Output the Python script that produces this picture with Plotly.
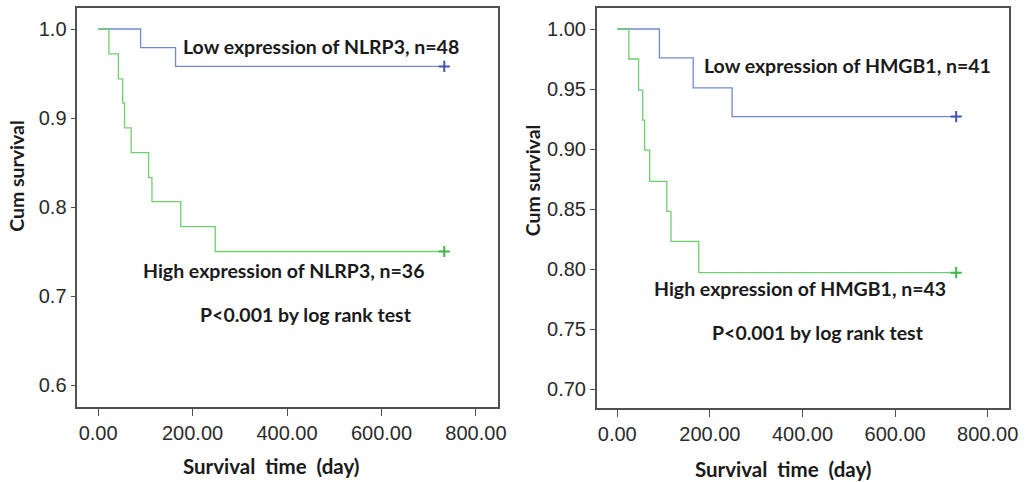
import plotly.graph_objects as go

# ---- data ----
nlrp3_low_days = [0, 90, 164, 733]
nlrp3_low_surv = [1.0, 0.979, 0.958, 0.958]
nlrp3_high_days = [0, 23, 43, 52, 56, 70, 107, 114, 175, 248, 733]
nlrp3_high_surv = [1.0, 0.972, 0.944, 0.917, 0.889, 0.861, 0.833, 0.806, 0.778, 0.750, 0.750]

hmgb1_low_days = [0, 91, 164, 248, 732]
hmgb1_low_surv = [1.0, 0.976, 0.951, 0.927, 0.927]
hmgb1_high_days = [0, 25, 46, 55, 59, 70, 107, 116, 176, 732]
hmgb1_high_surv = [1.0, 0.975, 0.949, 0.924, 0.899, 0.873, 0.848, 0.823, 0.797, 0.797]

x_ticks = [0, 200, 400, 600, 800]
x_tick_labels = ["0.00", "200.00", "400.00", "600.00", "800.00"]
y_ticks_left = [0.6, 0.7, 0.8, 0.9, 1.0]
y_tick_labels_left = ["0.6", "0.7", "0.8", "0.9", "1.0"]
y_ticks_right = [0.70, 0.75, 0.80, 0.85, 0.90, 0.95, 1.00]
y_tick_labels_right = ["0.70", "0.75", "0.80", "0.85", "0.90", "0.95", "1.00"]

BLUE_LINE = "#7388d2"
BLUE_MARK = "#3f56b0"
GREEN_LINE = "#6fcf6f"
GREEN_MARK = "#3fb54a"
AX = "#505050"
TXT = "#1a1a1a"
LBL_FONT = "Lato"

W, H = 1036, 482

def PX(px):
    return px / W

def PY(py):
    return 1 - py / H

fig = go.Figure()

def add_curve(days, surv, line_col, mark_col, xa, ya):
    fig.add_trace(go.Scatter(x=days, y=surv, mode="lines", line=dict(color=line_col, width=1.3, shape="hv"),
                             xaxis=xa, yaxis=ya, showlegend=False, hoverinfo="skip"))
    fig.add_trace(go.Scatter(x=[days[-1]], y=[surv[-1]], mode="markers",
                             marker=dict(symbol="cross-thin", size=8, line=dict(color=mark_col, width=2)),
                             xaxis=xa, yaxis=ya, showlegend=False, hoverinfo="skip"))

add_curve(nlrp3_low_days, nlrp3_low_surv, BLUE_LINE, BLUE_MARK, "x", "y")
add_curve(nlrp3_high_days, nlrp3_high_surv, GREEN_LINE, GREEN_MARK, "x", "y")
add_curve(hmgb1_low_days, hmgb1_low_surv, BLUE_LINE, BLUE_MARK, "x2", "y2")
add_curve(hmgb1_high_days, hmgb1_high_surv, GREEN_LINE, GREEN_MARK, "x2", "y2")

tickfont = dict(family="Liberation Sans, Arial", size=20, color="#2a2a2a")
common_ax = dict(showline=True, linecolor=AX, linewidth=1.6, mirror=True, showgrid=False, zeroline=False,
                 ticks="outside", tickcolor=AX, tickwidth=1.4, tickfont=tickfont, fixedrange=True)

fig.update_layout(
    width=W, height=H, margin=dict(l=0, r=0, t=0, b=0),
    paper_bgcolor="white", plot_bgcolor="white",
    xaxis=dict(domain=[PX(78), PX(502)], range=[-44, 846], tickvals=x_ticks, ticktext=x_tick_labels,
               ticklen=7, anchor="y", **common_ax),
    yaxis=dict(domain=[PY(407), PY(8)], range=[0.5753, 1.0236], tickvals=y_ticks_left,
               ticktext=y_tick_labels_left, ticklen=5, anchor="x", **common_ax),
    xaxis2=dict(domain=[PX(602), PX(1018)], range=[-44.3, 846.4], tickvals=x_ticks, ticktext=x_tick_labels,
                ticklen=7, anchor="y2", **common_ax),
    yaxis2=dict(domain=[PY(408), PY(8)], range=[0.6842, 1.0175], tickvals=y_ticks_right,
                ticktext=y_tick_labels_right, ticklen=5, anchor="x2", **common_ax),
)

afont = dict(family=LBL_FONT, size=19.5, color=TXT, weight="bold")
tfont = dict(family=LBL_FONT, size=20.5, color=TXT, weight="bold")

def note(text, x, y, xref, yref, angle=0, font=afont):
    fig.add_annotation(text=text, x=x, y=y, xref=xref, yref=yref, showarrow=False,
                       xanchor="center", yanchor="middle", font=font, textangle=angle)

note("Low expression of NLRP3, n=48", 472, 0.980, "x", "y")
note("High expression of NLRP3, n=36", 392, 0.729, "x", "y")
note("P&lt;0.001 by log rank test", 441, 0.679, "x", "y")
note("Low expression of HMGB1, n=41", 498, 0.970, "x2", "y2")
note("High expression of HMGB1, n=43", 395, 0.784, "x2", "y2")
note("P&lt;0.001 by log rank test", 433, 0.747, "x2", "y2")

note("Cum survival", PX(16), PY(176), "paper", "paper", angle=-90)
note("Cum survival", PX(537), PY(180), "paper", "paper", angle=-90)
note("Survival&nbsp;&nbsp;time&nbsp;&nbsp;(day)", PX(273), PY(466), "paper", "paper", font=tfont)
note("Survival&nbsp;&nbsp;time&nbsp;&nbsp;(day)", PX(790), PY(469), "paper", "paper", font=tfont)

fig.write_html("out.html", config={"displayModeBar": False},
               post_script="document.body.style.margin='0';document.body.style.overflow='hidden';")
